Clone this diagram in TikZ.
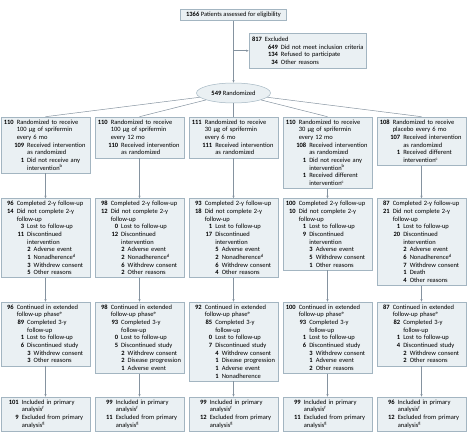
\documentclass[tikz,border=0pt]{standalone}
\usepackage{fontspec}
\setmainfont{Carlito}
\usetikzlibrary{shapes.geometric,arrows.meta}
\definecolor{boxfill}{HTML}{EAF0F3}
\definecolor{boxline}{HTML}{A3B5C1}
\definecolor{linegray}{HTML}{8593A0}
\newcommand{\ent}[3][10.5pt]{\hspace*{#1}\llap{\textbf{#2}}\hspace{3pt}#3}
\begin{document}
\begin{tikzpicture}[x=1pt,y=-1pt,>={Stealth[length=2.6pt,width=2.2pt]},
  txt/.style={font=\fontsize{6.5}{7.67}\selectfont},
  box/.style={txt,draw=boxline,fill=boxfill,line width=.5pt,text width=84.5pt,inner xsep=2pt,inner ysep=2.8pt,align=left,anchor=north west},
  link/.style={draw=linegray,line width=.5pt}]
\useasboundingbox(0,0)rectangle(467,437);
\node[txt,draw=boxline,fill=boxfill,line width=.5pt,minimum width=106pt,minimum height=11pt,inner sep=0](elig)at(233.5,15){\textbf{1366} Patients assessed for eligibility};
\node[box,text width=113pt,inner ysep=4pt](excl)at(248.7,32.7){\ent[11pt]{817}{Excluded}\\\ent[27pt]{649}{Did not meet inclusion criteria}\\\ent[27pt]{134}{Refused to participate}\\\ent[27pt]{34}{Other reasons}};
\node[txt,ellipse,draw=boxline,fill=boxfill,line width=.5pt,minimum width=74pt,minimum height=20pt,inner sep=0](rand)at(233.5,93){\textbf{549} Randomized};
\node[box](r1a)at(1,116.7){\ent{110}{Randomized to receive}\\\ent{}{100 µg of sprifermin}\\\ent{}{every 6 mo}\\\ent[21pt]{109}{Received intervention}\\\ent[21pt]{}{as randomized}\\\ent[21pt]{1}{Did not receive any}\\\ent[21pt]{}{intervention\textsuperscript{b}}};
\node[box](r1b)at(95,116.7){\ent{110}{Randomized to receive}\\\ent{}{100 µg of sprifermin}\\\ent{}{every 12 mo}\\\ent[21pt]{110}{Received intervention}\\\ent[21pt]{}{as randomized}};
\node[box](r1c)at(189,116.7){\ent{111}{Randomized to receive}\\\ent{}{30 µg of sprifermin}\\\ent{}{every 6 mo}\\\ent[21pt]{111}{Received intervention}\\\ent[21pt]{}{as randomized}};
\node[box](r1d)at(283,116.7){\ent{110}{Randomized to receive}\\\ent{}{30 µg of sprifermin}\\\ent{}{every 12 mo}\\\ent[21pt]{108}{Received intervention}\\\ent[21pt]{}{as randomized}\\\ent[21pt]{1}{Did not receive any}\\\ent[21pt]{}{intervention\textsuperscript{b}}\\\ent[21pt]{1}{Received different}\\\ent[21pt]{}{intervention\textsuperscript{c}}};
\node[box](r1e)at(377,116.7){\ent{108}{Randomized to receive}\\\ent{}{placebo every 6 mo}\\\ent[21pt]{107}{Received intervention}\\\ent[21pt]{}{as randomized}\\\ent[21pt]{1}{Received different}\\\ent[21pt]{}{intervention\textsuperscript{c}}};
\node[box](r2a)at(1,198.3){\ent{96}{Completed 2-y follow-up}\\\ent{14}{Did not complete 2-y}\\\ent{}{follow-up}\\\ent[21pt]{3}{Lost to follow-up}\\\ent[21pt]{11}{Discontinued}\\\ent[21pt]{}{intervention}\\\ent[27.5pt]{2}{Adverse event}\\\ent[27.5pt]{1}{Nonadherence\textsuperscript{d}}\\\ent[27.5pt]{3}{Withdrew consent}\\\ent[27.5pt]{5}{Other reasons}};
\node[box](r2b)at(95,198.3){\ent{98}{Completed 2-y follow-up}\\\ent{12}{Did not complete 2-y}\\\ent{}{follow-up}\\\ent[21pt]{0}{Lost to follow-up}\\\ent[21pt]{12}{Discontinued}\\\ent[21pt]{}{intervention}\\\ent[27.5pt]{2}{Adverse event}\\\ent[27.5pt]{2}{Nonadherence\textsuperscript{d}}\\\ent[27.5pt]{6}{Withdrew consent}\\\ent[27.5pt]{2}{Other reasons}};
\node[box](r2c)at(189,198.3){\ent{93}{Completed 2-y follow-up}\\\ent{18}{Did not complete 2-y}\\\ent{}{follow-up}\\\ent[21pt]{1}{Lost to follow-up}\\\ent[21pt]{17}{Discontinued}\\\ent[21pt]{}{intervention}\\\ent[27.5pt]{5}{Adverse event}\\\ent[27.5pt]{2}{Nonadherence\textsuperscript{d}}\\\ent[27.5pt]{6}{Withdrew consent}\\\ent[27.5pt]{4}{Other reasons}};
\node[box](r2d)at(283,198.3){\ent{100}{Completed 2-y follow-up}\\\ent{10}{Did not complete 2-y}\\\ent{}{follow-up}\\\ent[21pt]{1}{Lost to follow-up}\\\ent[21pt]{9}{Discontinued}\\\ent[21pt]{}{intervention}\\\ent[27.5pt]{3}{Adverse event}\\\ent[27.5pt]{5}{Withdrew consent}\\\ent[27.5pt]{1}{Other reasons}};
\node[box](r2e)at(377,198.3){\ent{87}{Completed 2-y follow-up}\\\ent{21}{Did not complete 2-y}\\\ent{}{follow-up}\\\ent[21pt]{1}{Lost to follow-up}\\\ent[21pt]{20}{Discontinued}\\\ent[21pt]{}{intervention}\\\ent[27.5pt]{2}{Adverse event}\\\ent[27.5pt]{6}{Nonadherence\textsuperscript{d}}\\\ent[27.5pt]{7}{Withdrew consent}\\\ent[27.5pt]{1}{Death}\\\ent[27.5pt]{4}{Other reasons}};
\node[box](r3a)at(1,301.7){\ent{96}{Continued in extended}\\\ent{}{follow-up phase\textsuperscript{e}}\\\ent[21pt]{89}{Completed 3-y}\\\ent[21pt]{}{follow-up}\\\ent[21pt]{1}{Lost to follow-up}\\\ent[21pt]{6}{Discontinued study}\\\ent[27.5pt]{3}{Withdrew consent}\\\ent[27.5pt]{3}{Other reasons}};
\node[box](r3b)at(95,301.7){\ent{98}{Continued in extended}\\\ent{}{follow-up phase\textsuperscript{e}}\\\ent[21pt]{93}{Completed 3-y}\\\ent[21pt]{}{follow-up}\\\ent[21pt]{0}{Lost to follow-up}\\\ent[21pt]{5}{Discontinued study}\\\ent[27.5pt]{2}{Withdrew consent}\\\ent[27.5pt]{2}{Disease progression}\\\ent[27.5pt]{1}{Adverse event}};
\node[box](r3c)at(189,301.7){\ent{92}{Continued in extended}\\\ent{}{follow-up phase\textsuperscript{e}}\\\ent[21pt]{85}{Completed 3-y}\\\ent[21pt]{}{follow-up}\\\ent[21pt]{0}{Lost to follow-up}\\\ent[21pt]{7}{Discontinued study}\\\ent[27.5pt]{4}{Withdrew consent}\\\ent[27.5pt]{1}{Disease progression}\\\ent[27.5pt]{1}{Adverse event}\\\ent[27.5pt]{1}{Nonadherence}};
\node[box](r3d)at(283,301.7){\ent{100}{Continued in extended}\\\ent{}{follow-up phase\textsuperscript{e}}\\\ent[21pt]{93}{Completed 3-y}\\\ent[21pt]{}{follow-up}\\\ent[21pt]{1}{Lost to follow-up}\\\ent[21pt]{6}{Discontinued study}\\\ent[27.5pt]{3}{Withdrew consent}\\\ent[27.5pt]{1}{Adverse event}\\\ent[27.5pt]{2}{Other reasons}};
\node[box](r3e)at(377,301.7){\ent{87}{Continued in extended}\\\ent{}{follow-up phase\textsuperscript{e}}\\\ent[21pt]{82}{Completed 3-y}\\\ent[21pt]{}{follow-up}\\\ent[21pt]{1}{Lost to follow-up}\\\ent[21pt]{4}{Discontinued study}\\\ent[27.5pt]{2}{Withdrew consent}\\\ent[27.5pt]{2}{Other reasons}};
\node[box](r4a)at(1,396.7){\ent[15.5pt]{101}{Included in primary}\\\ent[15.5pt]{}{analysis\textsuperscript{f}}\\\ent[15.5pt]{9}{Excluded from primary}\\\ent[15.5pt]{}{analysis\textsuperscript{g}}};
\node[box](r4b)at(95,396.7){\ent[15.5pt]{99}{Included in primary}\\\ent[15.5pt]{}{analysis\textsuperscript{f}}\\\ent[15.5pt]{11}{Excluded from primary}\\\ent[15.5pt]{}{analysis\textsuperscript{g}}};
\node[box](r4c)at(189,396.7){\ent[15.5pt]{99}{Included in primary}\\\ent[15.5pt]{}{analysis\textsuperscript{f}}\\\ent[15.5pt]{12}{Excluded from primary}\\\ent[15.5pt]{}{analysis\textsuperscript{g}}};
\node[box](r4d)at(283,396.7){\ent[15.5pt]{99}{Included in primary}\\\ent[15.5pt]{}{analysis\textsuperscript{f}}\\\ent[15.5pt]{11}{Excluded from primary}\\\ent[15.5pt]{}{analysis\textsuperscript{g}}};
\node[box](r4e)at(377,396.7){\ent[15.5pt]{96}{Included in primary}\\\ent[15.5pt]{}{analysis\textsuperscript{f}}\\\ent[15.5pt]{12}{Excluded from primary}\\\ent[15.5pt]{}{analysis\textsuperscript{g}}};
\draw[link,->](elig)--(rand);
\draw[link,->](elig.south|-excl.west)--(excl.west);
\foreach \c in {a,b,c,d,e}{
  \draw[link](rand)--(r1\c.north);
  \draw[link,->](r1\c.south)--(r2\c.north);
  \draw[link,->](r2\c.south)--(r3\c.north);
  \draw[link,->](r3\c.south)--(r4\c.north);}
\end{tikzpicture}
\end{document}
